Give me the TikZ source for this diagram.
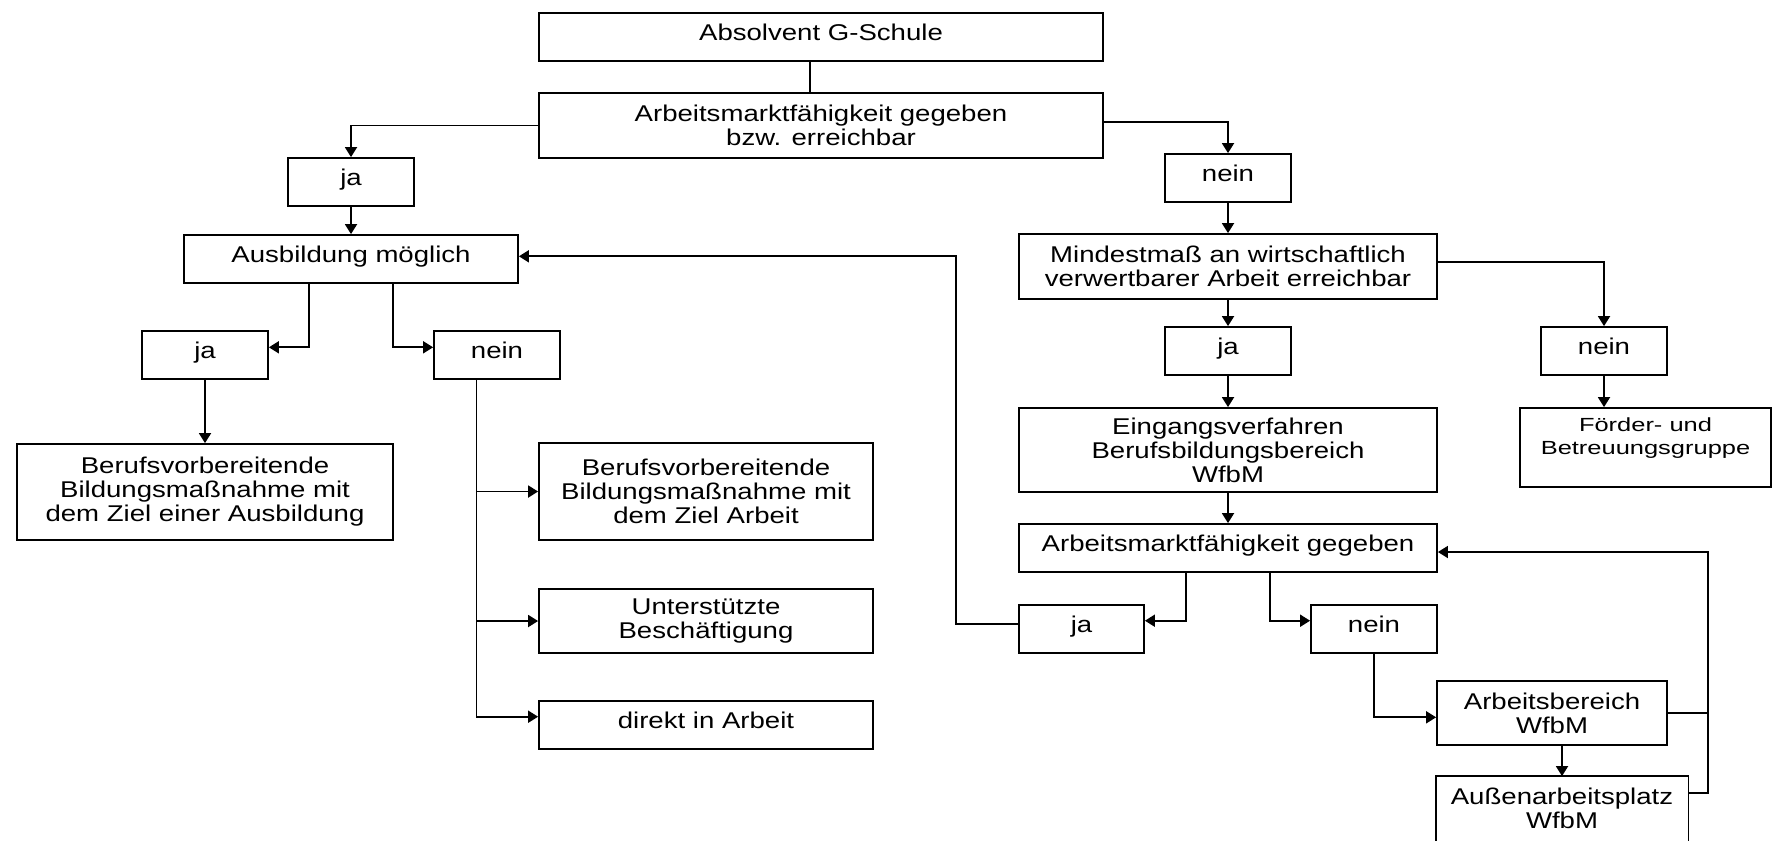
\documentclass[tikz,border=0pt]{standalone}
\usepackage{fontspec}
\setmainfont{Liberation Sans}[FakeStretch=1.21]
\newfontfamily\smallfam{Liberation Sans}[FakeStretch=1.34]
\usetikzlibrary{arrows.meta}
\tikzset{
  box/.style={draw, line width=0.9pt, inner sep=0pt, align=center,
    font=\fontsize{11.4}{12}\selectfont},
  one/.style={box, text height=0.75em, text depth=0.43em},
  arr/.style={line width=0.9pt, -{Triangle[length=5pt,width=6pt]}},
  ln/.style={line width=0.9pt},
}
\begin{document}
\begin{tikzpicture}[x=0.5pt,y=-0.5pt]
\useasboundingbox (0,0) rectangle (1776,848);
% nodes
\node[one, minimum width=282pt, minimum height=24pt] (A) at (821,37) {Absolvent G-Schule};
\node[box, minimum width=282pt, minimum height=32.5pt] (B) at (821,125.5) {Arbeitsmarktfähigkeit gegeben\\bzw. erreichbar};
\node[one, minimum width=63pt, minimum height=24pt] (ja1) at (351,182) {ja};
\node[one, minimum width=167pt, minimum height=24pt] (C) at (351,259) {Ausbildung möglich};
\node[one, minimum width=63pt, minimum height=24pt] (nein1) at (1228,178) {nein};
\node[box, minimum width=209pt, minimum height=32.5pt] (D) at (1228,266.5) {Mindestmaß an wirtschaftlich\\verwertbarer Arbeit erreichbar};
\node[one, minimum width=63pt, minimum height=24pt] (ja2) at (1228,351) {ja};
\node[one, minimum width=63pt, minimum height=24pt] (nein2) at (1604,351) {nein};
\node[box, minimum width=209pt, minimum height=42pt] (E) at (1228,450) {Eingangsverfahren\\Berufsbildungsbereich\\WfbM};
\node[box, minimum width=125.5pt, minimum height=39.5pt, font=\smallfam\fontsize{9.5}{11.2}\selectfont] (F) at (1645.5,447.5) {Förder- und\\Betreuungsgruppe\\\mbox{}};
\node[one, minimum width=209pt, minimum height=24pt] (G) at (1228,548) {Arbeitsmarktfähigkeit gegeben};
\node[one, minimum width=62.5pt, minimum height=24pt] (ja3) at (1081.5,629) {ja};
\node[one, minimum width=63pt, minimum height=24pt] (nein3) at (1374,629) {nein};
\node[box, minimum width=115pt, minimum height=32pt] (H) at (1552,713) {Arbeitsbereich\\WfbM};
\node[box, draw=none, minimum width=125.5pt, minimum height=31.5pt] (I) at (1562,808.5) {Außenarbeitsplatz\\WfbM};
\draw[ln] (I.south west) -- (I.north west) -- (I.north east) -- (I.south east);
\node[one, minimum width=63pt, minimum height=24pt] (ja4) at (205,355) {ja};
\node[one, minimum width=63pt, minimum height=24pt] (nein4) at (497,355) {nein};
\node[box, minimum width=188pt, minimum height=48pt] (J) at (205,492) {Berufsvorbereitende\\Bildungsmaßnahme mit\\dem Ziel einer Ausbildung};
\node[box, minimum width=167pt, minimum height=48.5pt] (K) at (706,491.5) {Berufsvorbereitende\\Bildungsmaßnahme mit\\dem Ziel Arbeit};
\node[box, minimum width=167pt, minimum height=32pt] (L) at (706,621) {Unterstützte\\Beschäftigung};
\node[one, minimum width=167pt, minimum height=24pt] (M) at (706,725) {direkt in Arbeit};
% helper coordinates
\coordinate (ab) at (810,0);
\coordinate (bn) at (1228,122.3);
\coordinate (dn) at (1604,262.3);
\coordinate (c1) at (309,347.3);
\coordinate (c2) at (392.6,347.3);
\coordinate (nb) at (476.4,716.7);
\coordinate (g1) at (1186,620.7);
\coordinate (g2) at (1270,620.7);
\coordinate (n3) at (1374,717.3);
\coordinate (lb) at (956,624.3);
\coordinate (lt) at (956,256.3);
\coordinate (rtop) at (1708,552);
\coordinate (rmid) at (1708,712.5);
\coordinate (rbot) at (1708,793.3);
% connectors
\draw[ln] (A.south -| ab) -- (B.north -| ab);
\draw[arr] (B.west) -| (ja1.north);
\draw[arr] (ja1) -- (C);
\draw[arr] (B.east |- bn) -- (bn) -- (nein1.north);
\draw[arr] (nein1) -- (D);
\draw[arr] (D.east |- dn) -- (dn) -- (nein2.north);
\draw[arr] (D) -- (ja2);
\draw[arr] (ja2) -- (E);
\draw[arr] (nein2.south) -- (nein2.south |- F.north);
\draw[arr] (E) -- (G);
\draw[arr] (G.south -| g1) -- (g1) -- (ja3.east |- g1);
\draw[arr] (G.south -| g2) -- (g2) -- (nein3.west |- g2);
\draw[arr] (nein3.south) -- (nein3.south |- n3) -- (H.west |- n3);
\draw[arr] (H.south -| I.north) -- (I.north);
\draw[ln] (H.east) -- (H.east -| rmid);
\draw[arr] (I.east |- rbot) -- (rbot) -- (rtop) -- (G.east |- rtop);
\draw[arr] (ja3.west |- lb) -- (lb) -- (lt) -- (C.east |- lt);
\draw[arr] (C.south -| c1) -- (c1) -- (ja4.east |- c1);
\draw[arr] (C.south -| c2) -- (c2) -- (nein4.west |- c2);
\draw[arr] (ja4) -- (J);
\draw[ln] (nein4.south -| nb) -- (nb);
\draw[arr] (K.west -| nb) -- (K.west);
\draw[arr] (L.west -| nb) -- (L.west);
\draw[arr] (nb) -- (M.west |- nb);
\end{tikzpicture}
\end{document}
